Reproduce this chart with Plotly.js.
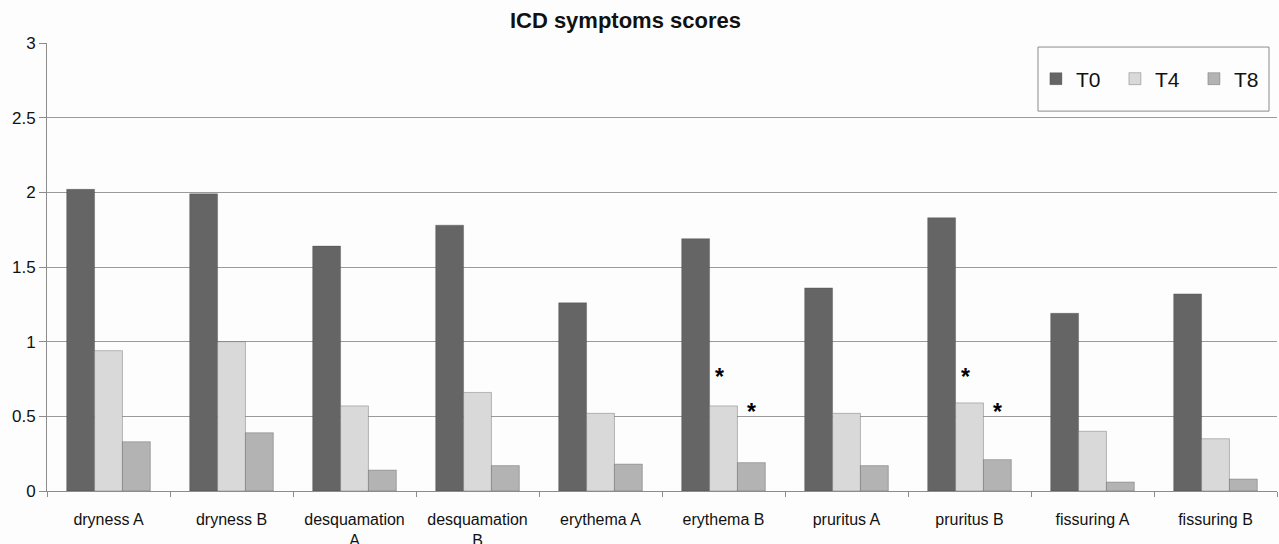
<!DOCTYPE html>
<html>
<head>
<meta charset="utf-8">
<script src="https://cdn.plot.ly/plotly-3.0.1.min.js"></script>
<style>html,body{margin:0;padding:0;background:#fdfdfd;}#chart{width:1279px;height:544px;}</style>
</head>
<body>
<div id="chart"></div>
<script>
const categories = ["dryness A","dryness B","desquamation<br>A","desquamation<br>B","erythema A","erythema B","pruritus A","pruritus B","fissuring A","fissuring B"];
const seriesNames = ["T0","T4","T8"];
const t0 = [2.02, 1.99, 1.64, 1.78, 1.26, 1.69, 1.36, 1.83, 1.19, 1.32];
const t4 = [0.94, 1.00, 0.57, 0.66, 0.52, 0.57, 0.52, 0.59, 0.40, 0.35];
const t8 = [0.33, 0.39, 0.14, 0.17, 0.18, 0.19, 0.17, 0.21, 0.06, 0.08];
const yTicks = [0, 0.5, 1, 1.5, 2, 2.5, 3];
const yTickLabels = ["0","0.5","1","1.5","2","2.5","3"];
// significance markers: category, series, y level of the asterisk
const sigCategories = ["erythema B","erythema B","pruritus B","pruritus B"];
const sigSeries = ["T4","T8","T4","T8"];
const sigLevels = [0.78, 0.54, 0.78, 0.54];

const colors = {T0:"#656565", T4:"#d9d9d9", T8:"#b3b3b3"};
const values = {T0:t0, T4:t4, T8:t8};
const FONT = "Liberation Sans, Arial, sans-serif";

const traces = seriesNames.map(n => ({
  type:"bar", name:n, x:categories, y:values[n],
  marker:{color:colors[n], line:{color:"rgba(60,60,60,0.45)", width:0.7}},
  hoverinfo:"y"
}));

const shiftFor = {T0:-28, T4:-4, T8:28};
const annotations = sigCategories.map((c,i)=>({
  x:c, xref:"x", y:sigLevels[i], yref:"y",
  text:"<b>*</b>", showarrow:false, xshift:shiftFor[sigSeries[i]], yshift:-2,
  font:{family:FONT, size:23, color:"#000"}
}));

const layout = {
  width:1279, height:544,
  paper_bgcolor:"#fdfdfd", plot_bgcolor:"#fdfdfd",
  margin:{l:47, r:2, t:43, b:53, autoexpand:false},
  title:{text:"<b>ICD symptoms scores</b>", x:0.489, xanchor:"center", y:0.963, yanchor:"middle",
         font:{family:FONT, size:22, color:"#111"}},
  barmode:"group", bargap:0.32, bargroupgap:0,
  showlegend:true,
  legend:{orientation:"h", x:0.804, xanchor:"left", y:0.9196, yanchor:"middle",
          bgcolor:"rgba(0,0,0,0)", borderwidth:0,
          font:{family:FONT, size:21, color:"#111"},
          entrywidth:34, itemwidth:30, traceorder:"normal"},
  shapes:[{type:"rect", xref:"paper", yref:"paper", x0:0.8057, x1:0.9935, y0:0.848, y1:0.991,
           line:{color:"#8c8c8c", width:1}, fillcolor:"#fdfdfd", layer:"above"}],
  xaxis:{type:"category", tickson:"boundaries", ticks:"outside", ticklen:5, tickcolor:"#8c8c8c",
         showline:true, linecolor:"#8c8c8c", linewidth:1, showgrid:false, ticklabelstandoff:14,
         tickfont:{family:FONT, size:16, color:"#111"}},
  yaxis:{range:[0,3], tickvals:yTicks, ticktext:yTickLabels, ticks:"outside", ticklen:7, tickcolor:"#8c8c8c",
         showline:true, linecolor:"#8c8c8c", linewidth:1, showgrid:true, gridcolor:"#9a9a9a", gridwidth:1,
         zeroline:false,
         tickfont:{family:FONT, size:17, color:"#111"}},
  annotations:annotations
};
Plotly.newPlot("chart", traces, layout, {displayModeBar:false, staticPlot:true});
</script>
</body>
</html>
